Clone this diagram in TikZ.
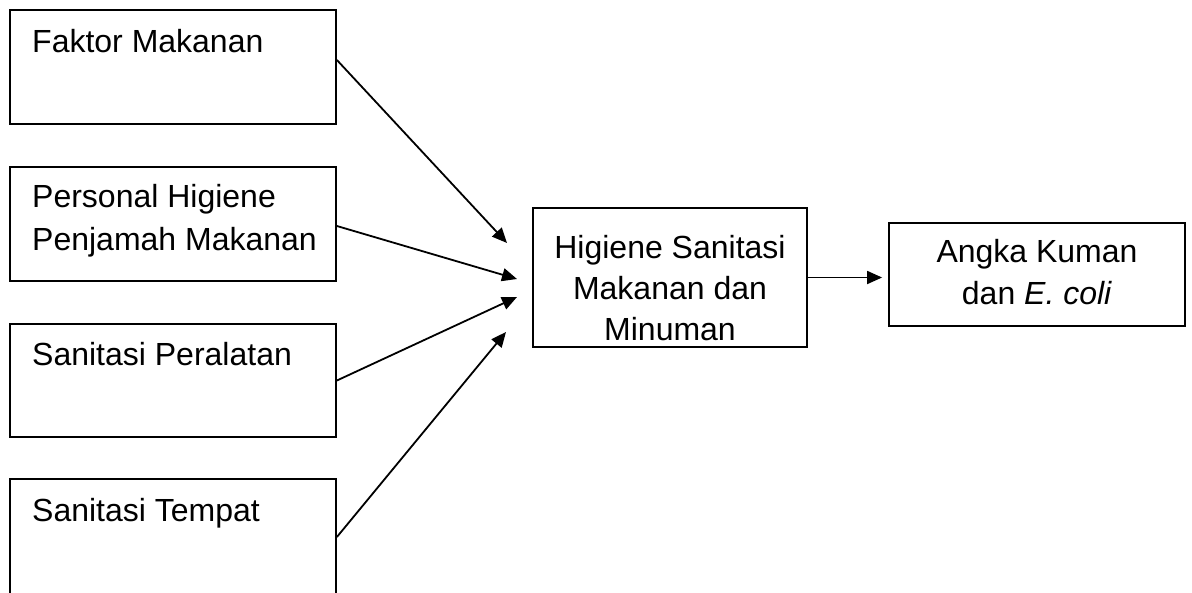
\documentclass[tikz,border=0pt]{standalone}
\usepackage{fontspec}
\setmainfont{Liberation Sans}
\usetikzlibrary{arrows.meta}
\tikzset{
  box/.style={draw=black, line width=1.8pt, rectangle, inner sep=0pt},
  lbl/.style={inner sep=0pt, font=\fontsize{32}{41}\selectfont},
  arr/.style={line width=1.8pt, -{Triangle[length=15pt,width=13pt]}}
}
\begin{document}
\begin{tikzpicture}[x=1pt,y=-1pt]
\useasboundingbox (0,0) rectangle (1192,592);
\fill[white] (0,0) rectangle (1192,592);
% left boxes
\node[box, minimum width=326pt, minimum height=114pt] (b1) at (173,67) {};
\node[box, minimum width=326pt, minimum height=114pt] (b2) at (173,224) {};
\node[box, minimum width=326pt, minimum height=113pt] (b3) at (173,380.5) {};
\node[box, minimum width=326pt, minimum height=118pt] (b4) at (173,538) {};
% middle and right boxes
\node[box, minimum width=274pt, minimum height=139pt] (m) at (670,277.5) {};
\node[box, minimum width=296pt, minimum height=103pt] (r) at (1037,274.5) {};
% texts
\node[lbl, anchor=base west] (t1) at (32,52) {Faktor Makanan};
\node[lbl, anchor=base west] (t2a) at (32,207) {Personal Higiene};
\node[lbl, anchor=base west] (t2b) at (32,250) {Penjamah Makanan};
\node[lbl, anchor=base west] (t3) at (32,365) {Sanitasi Peralatan};
\node[lbl, anchor=base west] (t4) at (32,521) {Sanitasi Tempat};
\node[lbl, anchor=base] (tm1) at (670,258) {Higiene Sanitasi};
\node[lbl, anchor=base] (tm2) at (670,299) {Makanan dan};
\node[lbl, anchor=base] (tm3) at (670,340) {Minuman};
\node[lbl, anchor=base] (tr1) at (1037,262) {Angka Kuman};
\node[lbl, anchor=base] (tr2) at (1037,304) {dan \textit{E. coli}};
% arrow ends
\coordinate (e1) at (507,243);
\coordinate (e2) at (517,279);
\coordinate (e3) at (517,297);
\coordinate (e4) at (506,332);
\draw[arr] ([yshift=7pt]b1.east) -- (e1);
\draw[arr] ([yshift=-2pt]b2.east) -- (e2);
\draw[arr] (b3.east) -- (e3);
\draw[arr] ([yshift=1pt]b4.east) -- (e4);
\draw[arr, shorten >=6pt] (m.east) -- (r.west |- m.east);
\end{tikzpicture}
\end{document}
